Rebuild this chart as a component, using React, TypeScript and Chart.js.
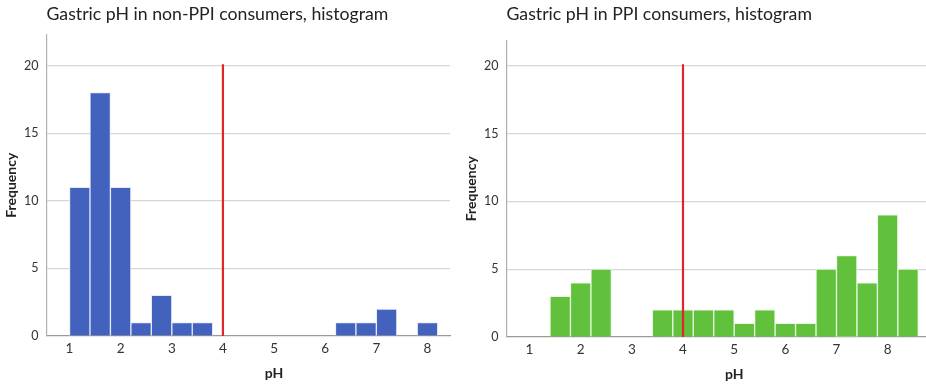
import React, { useEffect, useRef } from "react";
import { Chart, registerables } from "chart.js";

Chart.register(...registerables);

// Histogram bins (left edge of each non-empty bin) and their frequencies
const binWidth = 0.4;

const nonPpiBinStarts = [1.0, 1.4, 1.8, 2.2, 2.6, 3.0, 3.4, 6.2, 6.6, 7.0, 7.8];
const nonPpiCounts = [11, 18, 11, 1, 3, 1, 1, 1, 1, 2, 1];

const ppiBinStarts = [1.4, 1.8, 2.2, 3.4, 3.8, 4.2, 4.6, 5.0, 5.4, 5.8, 6.2, 6.6, 7.0, 7.4, 7.8, 8.2];
const ppiCounts = [3, 4, 5, 2, 2, 2, 2, 1, 2, 1, 1, 5, 6, 4, 9, 5];

// Reference line at pH 4
const cutoffPh = 4;
const cutoffSpan = [0, 20.1];

const xTicks = [1, 2, 3, 4, 5, 6, 7, 8];
const yTicks = [0, 5, 10, 15, 20];

const FONT = "Lato, 'Open Sans', sans-serif";

type PanelProps = {
  title: string;
  starts: number[];
  counts: number[];
  color: string;
  border: string;
  width: number;
  yMax: number;
  xMax: number;
  titleGap: number;
  xAxisHeight: number;
  padRight: number;
};

const axisTitlePlugin = {
  id: "phAxisTitle",
  afterDraw(chart: any) {
    const { ctx, chartArea } = chart;
    const xs = chart.scales.x;
    ctx.save();
    ctx.font = `bold 14px ${FONT}`;
    ctx.fillStyle = "#222";
    ctx.textAlign = "center";
    ctx.textBaseline = "middle";
    ctx.fillText("pH", xs.getPixelForValue(5), chartArea.bottom + 37);
    ctx.restore();
  },
};

function HistogramPanel(p: PanelProps) {
  const ref = useRef<HTMLCanvasElement | null>(null);

  useEffect(() => {
    if (!ref.current) return;
    const bars = p.starts.map((s, i) => ({ x: s + binWidth / 2, y: p.counts[i] }));
    const chart = new Chart(ref.current, {
      type: "bar",
      data: {
        datasets: [
          {
            type: "bar",
            data: bars as any,
            backgroundColor: p.color,
            borderColor: p.border,
            borderWidth: 1,
            borderSkipped: "start",
            barPercentage: 1,
            categoryPercentage: 1,
            order: 2,
          },
          {
            type: "line",
            data: cutoffSpan.map((y) => ({ x: cutoffPh, y })) as any,
            borderColor: "#e0262a",
            borderWidth: 2.2,
            pointRadius: 0,
            order: 1,
          },
        ],
      },
      options: {
        responsive: false,
        animation: false,
        layout: { padding: { left: 0, right: p.padRight, top: 0, bottom: 0 } },
        plugins: {
          legend: { display: false },
          tooltip: { enabled: false },
          title: {
            display: true,
            text: p.title,
            align: "start",
            fullSize: false,
            color: "#222",
            font: { family: FONT, size: 17.7, weight: "normal" },
            padding: { top: 3.5, bottom: p.titleGap },
          },
        },
        scales: {
          x: {
            type: "linear",
            offset: false,
            min: 0.55,
            max: p.xMax,
            afterBuildTicks: (s: any) => {
              s.ticks = xTicks.map((v) => ({ value: v }));
            },
            afterFit: (s: any) => {
              s.height = p.xAxisHeight;
            },
            grid: { display: false, drawTicks: false, offset: false },
            border: { display: true, color: "#9a9a9a", width: 1.2 },
            ticks: {
              color: "#333",
              font: { family: FONT, size: 13.5 },
              padding: 5,
              maxRotation: 0,
            },
          },
          y: {
            type: "linear",
            min: 0,
            max: p.yMax,
            afterBuildTicks: (s: any) => {
              s.ticks = yTicks.map((v) => ({ value: v }));
            },
            afterFit: (s: any) => {
              s.width = 46.5;
            },
            grid: {
              drawTicks: false,
              color: (c: any) => (c.tick && c.tick.value === 0 ? "rgba(0,0,0,0)" : "#d6d6d6"),
              lineWidth: 1.2,
            },
            border: { display: true, color: "#b0b0b0", width: 1.2 },
            ticks: {
              color: "#333",
              font: { family: FONT, size: 12.5 },
              padding: 8,
            },
            title: {
              display: true,
              text: "Frequency",
              color: "#222",
              font: { family: FONT, size: 14, weight: "bold" },
              padding: { top: 3.5, bottom: 0 },
            },
          },
        },
      },
      plugins: [axisTitlePlugin],
    });
    return () => chart.destroy();
  }, []);

  return <canvas ref={ref} width={p.width} height={385} style={{ display: "block" }} />;
}

export default function App() {
  return (
    <div
      style={{
        position: "fixed",
        left: 0,
        top: 0,
        width: 926,
        height: 385,
        background: "#fff",
        overflow: "hidden",
      }}
    >
      <div style={{ position: "absolute", left: 0, top: 0 }}>
        <HistogramPanel
          title="Gastric pH in non-PPI consumers, histogram"
          starts={nonPpiBinStarts}
          counts={nonPpiCounts}
          color="#4262be"
          border="rgba(225,232,250,0.9)"
          width={460}
          yMax={22.3}
          xMax={8.44}
          titleGap={9.8}
          xAxisHeight={49}
          padRight={10}
        />
      </div>
      <div style={{ position: "absolute", left: 460, top: 0 }}>
        <HistogramPanel
          title="Gastric pH in PPI consumers, histogram"
          starts={ppiBinStarts}
          counts={ppiCounts}
          color="#62c13c"
          border="rgba(230,248,222,0.9)"
          width={466}
          yMax={21.85}
          xMax={8.75}
          titleGap={15.8}
          xAxisHeight={48}
          padRight={0}
        />
      </div>
    </div>
  );
}
